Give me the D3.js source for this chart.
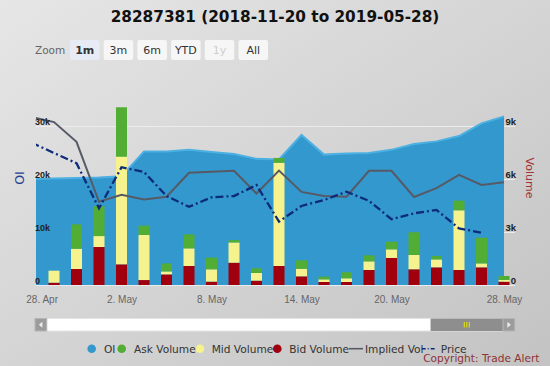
<!DOCTYPE html>
<html>
<head>
<meta charset="utf-8">
<script src="https://cdn.jsdelivr.net/npm/d3@7"></script>
<style>
  html, body { margin: 0; padding: 0; overflow: hidden; background: #d6d6d6; }
  svg { display: block; font-family: "DejaVu Sans", Verdana, sans-serif; }
</style>
</head>
<body>
<div id="chart"></div>
<script>
// trading days shown in the 1m window (Apr 26 sits just left of the plot edge)
const dates = ["2019-04-26", "2019-04-29", "2019-04-30", "2019-05-01", "2019-05-02", "2019-05-03",
  "2019-05-06", "2019-05-07", "2019-05-08", "2019-05-09", "2019-05-10", "2019-05-13",
  "2019-05-14", "2019-05-15", "2019-05-16", "2019-05-17", "2019-05-20", "2019-05-21",
  "2019-05-22", "2019-05-23", "2019-05-24", "2019-05-28"];

// open interest, contracts
const oi = [20000, 20100, 20200, 20300, 20500, 25200, 25200, 25500, 25100, 24700, 23800,
  23700, 28300, 24600, 24800, 24900, 25500, 26600, 27100, 28100, 30500, 31800];

// volumes from Apr 29 on
const bidVol = [130, 905, 2150, 1170, 280, 600, 1075, 190, 1260, 245, 1075, 490, 170, 170,
  850, 1530, 890, 1000, 850, 1000, 190];
const midVol = [680, 1150, 620, 6090, 2550, 170, 1000, 700, 1150, 435, 5850, 430, 150, 210,
  490, 490, 810, 450, 3380, 225, 95];
const askVol = [0, 1380, 1700, 2800, 530, 450, 790, 660, 130, 265, 265, 475, 150, 340,
  340, 430, 1285, 190, 545, 1450, 225];

// implied vol (%) and underlying price, both on hidden axes
const impliedVol = [83, 81.1, 73.7, 51.2, 53.8, 52.1, 53.1, 62.1, 62.5, 62.8, 54.3, 62.9,
  54.9, 53.4, 53.1, 62.8, 62.8, 53.0, 56.3, 61.3, 57.5, 58.5];
const price = [8.9, 8.25, 7.61, 4.79, 7.36, 7.06, 5.56, 4.89, 5.48, 5.56, 6.25, 3.96, 4.94,
  5.31, 5.83, 5.26, 4.11, 4.48, 4.69, 3.54, 3.27, null];

const oiTicks = [0, 10000, 20000, 30000];
const volTicks = [0, 3000, 6000, 9000];
const xTickPos = [-0.55, 3, 7, 11, 15, 20];           // ordinal position of each label
const xTickLabels = ["28. Apr", "2. May", "8. May", "14. May", "20. May", "28. May"];
const zoomButtons = ["1m", "3m", "6m", "YTD", "1y", "All"];
const fullRange = ["2018-11-20", "2019-05-28"];
const viewRange = ["2019-04-28", "2019-05-28"];
const legendNames = ["OI", "Ask Volume", "Mid Volume", "Bid Volume", "Implied Vol", "Price"];

const C = {
  oi: "#3398cd", oiLine: "#4db0e2", ask: "#51ad33", mid: "#f6f38e", bid: "#a0000e",
  iv: "#565a66", price: "#0c2b7a", text: "#333", oiTitle: "#25408f", volTitle: "#a43434"
};

const W = 550, H = 366;
const plot = { left: 36, right: 515, top: 92, bottom: 285 };

const svg = d3.select("#chart").append("svg").attr("width", W).attr("height", H);
const defs = svg.append("defs");
const bg = defs.append("linearGradient").attr("id", "bg")
  .attr("x1", 0).attr("y1", 0).attr("x2", 1).attr("y2", 1);
bg.append("stop").attr("offset", 0).attr("stop-color", "#e6e6e6");
bg.append("stop").attr("offset", 1).attr("stop-color", "#c3c3c3");
svg.append("rect").attr("width", W).attr("height", H).attr("fill", "url(#bg)");
defs.append("clipPath").attr("id", "plotclip").append("rect")
  .attr("x", plot.left).attr("y", plot.top - 10)
  .attr("width", plot.right - plot.left).attr("height", plot.bottom - plot.top + 11);

// ---- scales
const x = d3.scaleLinear().domain([-1, 20]).range([31.5, 504]);
const yOI = d3.scaleLinear().domain([0, 30000]).range([plot.bottom, 126]);
const yVol = d3.scaleLinear().domain([0, 9000]).range([plot.bottom, 126]);
const yIV = d3.scaleLinear().domain([20, 80]).range([plot.bottom, 125]);
const yPx = d3.scaleLinear().domain([0, 10]).range([plot.bottom, 125]);

// ---- title + range selector
svg.append("text").attr("x", W / 2).attr("y", 21.5).attr("text-anchor", "middle")
  .attr("font-size", 15.3).attr("font-weight", 700).attr("fill", "#111")
  .text("28287381 (2018-11-20 to 2019-05-28)");

svg.append("text").attr("x", 35).attr("y", 54).attr("font-size", 10.5).attr("fill", "#666")
  .text("Zoom");
zoomButtons.forEach((b, i) => {
  const bx = 70 + i * 33.7;
  svg.append("rect").attr("x", bx).attr("y", 40).attr("width", 29.5).attr("height", 20)
    .attr("rx", 2).attr("fill", i === 0 ? "#e6ebf5" : "#f6f6f6");
  svg.append("text").attr("x", bx + 14.75).attr("y", 54).attr("text-anchor", "middle")
    .attr("font-size", 11).attr("font-weight", i === 0 ? 700 : 400)
    .attr("fill", b === "1y" ? "#cfcfcf" : "#333").text(b);
});

// ---- grid
svg.append("g").attr("transform", `translate(${plot.left},0)`)
  .call(d3.axisLeft(yOI).tickValues(oiTicks).tickSize(-(plot.right - plot.left)).tickFormat(""))
  .call(g => g.select(".domain").remove())
  .call(g => g.selectAll("line").attr("stroke", "#ececec"));

const clipped = svg.append("g").attr("clip-path", "url(#plotclip)");

// ---- OI area
const area = d3.area().x((d, i) => x(i - 1)).y0(plot.bottom).y1(d => yOI(d));
const line = d3.line().x((d, i) => x(i - 1)).y(d => yOI(d));
clipped.append("path").datum(oi).attr("fill", C.oi).attr("d", area);
clipped.append("path").datum(oi).attr("fill", "none").attr("stroke", C.oiLine)
  .attr("stroke-width", 2).attr("d", line);

// ---- stacked volume bars
const volRows = bidVol.map((v, i) => ({ i: i, bid: v, mid: midVol[i], ask: askVol[i] }));
const stack = d3.stack().keys(["bid", "mid", "ask"])(volRows);
const barW = 11;
stack.forEach(layer => {
  clipped.append("g").attr("fill", C[layer.key]).selectAll("rect").data(layer).join("rect")
    .attr("x", d => x(d.data.i) - barW / 2).attr("width", barW)
    .attr("y", d => yVol(d[1])).attr("height", d => yVol(d[0]) - yVol(d[1]));
});

// ---- implied vol + price lines
clipped.append("path").datum(impliedVol).attr("fill", "none").attr("stroke", C.iv)
  .attr("stroke-width", 2)
  .attr("d", d3.line().x((d, i) => x(i - 1)).y(d => yIV(d)));
clipped.append("path").datum(price).attr("fill", "none").attr("stroke", C.price)
  .attr("stroke-width", 2.3).attr("stroke-dasharray", "8,3,2,3")
  .attr("d", d3.line().defined(d => d != null).x((d, i) => x(i - 1)).y(d => yPx(d)));

// ---- axes
const kFmt = d => d === 0 ? "0" : d / 1000 + "k";
svg.append("g").attr("transform", `translate(35,0)`)
  .call(d3.axisRight(yOI).tickValues(oiTicks).tickFormat(kFmt).tickSize(0).tickPadding(0))
  .call(g => g.select(".domain").remove())
  .call(g => g.selectAll("text").attr("dy", -2).attr("font-size", 9).attr("font-weight", 700)
    .attr("fill", "#222").attr("font-family", null));
svg.append("g").attr("transform", `translate(516,0)`)
  .call(d3.axisLeft(yVol).tickValues(volTicks).tickFormat(kFmt).tickSize(0).tickPadding(0))
  .call(g => g.select(".domain").remove())
  .call(g => g.selectAll("text").attr("dy", -2).attr("font-size", 9.5).attr("font-weight", 700)
    .attr("fill", "#222").attr("font-family", null));
svg.append("g").attr("transform", `translate(0,${plot.bottom})`)
  .call(d3.axisBottom(x).tickValues(xTickPos).tickFormat((d, i) => xTickLabels[i])
    .tickSize(0).tickPadding(11))
  .call(g => g.select(".domain").remove())
  .call(g => g.selectAll("text").attr("font-size", 10).attr("fill", "#666")
    .attr("font-family", null));

svg.append("text").attr("transform", "translate(24,178) rotate(-90)").attr("text-anchor", "middle")
  .attr("font-size", 12.5).attr("fill", C.oiTitle).text("OI");
svg.append("text").attr("transform", "translate(526,178) rotate(90)").attr("text-anchor", "middle")
  .attr("font-size", 11).attr("fill", C.volTitle).text("Volume");

// ---- scrollbar (1m window of the full history)
const tScale = d3.scaleTime().domain(fullRange.map(d => new Date(d))).range([46.7, 503]);
const sbY = 318.5, sbH = 12.5;
svg.append("rect").attr("x", 46.7).attr("y", sbY).attr("width", 503 - 46.7).attr("height", sbH)
  .attr("fill", "#fff").attr("stroke", "#e4e4e4");
const bx0 = tScale(new Date(viewRange[0])), bx1 = tScale(new Date(viewRange[1]));
svg.append("rect").attr("x", bx0).attr("y", sbY).attr("width", bx1 - bx0).attr("height", sbH)
  .attr("fill", "#8e8e8e");
[-2.5, 0, 2.5].forEach(o => {
  svg.append("line").attr("x1", (bx0 + bx1) / 2 + o).attr("x2", (bx0 + bx1) / 2 + o)
    .attr("y1", sbY + 3.5).attr("y2", sbY + sbH - 3.5).attr("stroke", "#e6e600").attr("stroke-width", 1);
});
[[35, -1], [503, 1]].forEach(([bx, dir]) => {
  svg.append("rect").attr("x", bx).attr("y", sbY).attr("width", 11.7).attr("height", sbH)
    .attr("fill", "#9c9c9c").attr("stroke", "#b5b5b5");
  const cx = bx + 5.85, cy = sbY + sbH / 2;
  svg.append("path").attr("fill", "#eee")
    .attr("d", `M${cx - 1.5 * dir},${cy - 3}L${cx + 2 * dir},${cy}L${cx - 1.5 * dir},${cy + 3}Z`);
});

// ---- legend
const legendX = [91.7, 121.7, 200, 277.3, 349, 421.7];
const legendTextX = [104, 134, 211.7, 289.3, 365, 440.7];
const legendColor = [C.oi, C.ask, C.mid, C.bid, C.iv, C.price];
const ly = 348.7;
legendNames.forEach((n, i) => {
  if (i < 4) {
    svg.append("circle").attr("cx", legendX[i]).attr("cy", ly).attr("r", 4.3)
      .attr("fill", legendColor[i]);
  } else {
    svg.append("line").attr("x1", legendX[i]).attr("x2", legendX[i] + 14)
      .attr("y1", ly).attr("y2", ly).attr("stroke", legendColor[i]).attr("stroke-width", 1.6)
      .attr("stroke-dasharray", i === 5 ? "4,2,1,2" : null);
  }
  svg.append("text").attr("x", legendTextX[i]).attr("y", ly + 4).attr("font-size", 10.6)
    .attr("fill", C.text).text(n);
});

svg.append("text").attr("x", 539.5).attr("y", 362).attr("text-anchor", "end")
  .attr("font-size", 10.6).attr("fill", "#8e3434").text("Copyright: Trade Alert");
</script>
</body>
</html>
